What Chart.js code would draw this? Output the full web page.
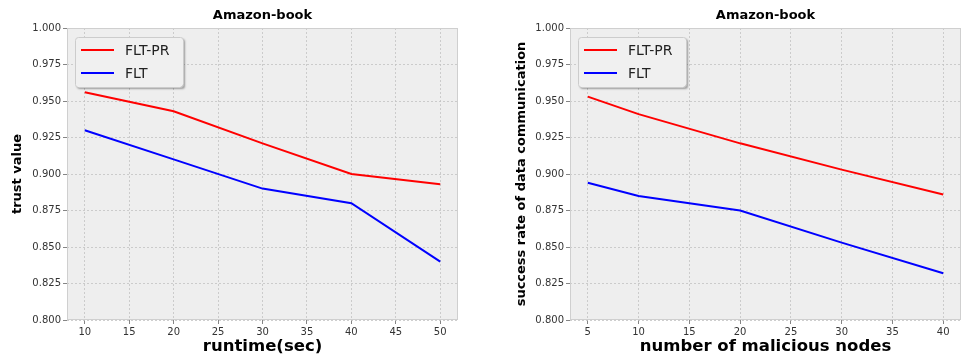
<!DOCTYPE html>
<html>
<head>
<meta charset="utf-8">
<script src="https://cdn.jsdelivr.net/npm/chart.js@4.4.0/dist/chart.umd.min.js"></script>
<style>
body { margin: 0; background: #fff; }
#wrap { position: relative; width: 963px; height: 357px; }
canvas { position: absolute; top: 0; }
</style>
</head>
<body>
<div id="wrap">
  <canvas id="runtimeChart" width="480" height="357" style="left:0"></canvas>
  <canvas id="nodesChart" width="483" height="357" style="left:480px"></canvas>
</div>
<script>
// left panel: trust value vs runtime
var runtimeX = [10, 20, 30, 40, 50];
var runtimeFltPr = [0.956, 0.943, 0.921, 0.900, 0.893];
var runtimeFlt = [0.930, 0.910, 0.890, 0.880, 0.840];
var runtimeTicks = [10, 15, 20, 25, 30, 35, 40, 45, 50];

// right panel: success rate vs malicious nodes
var nodesX = [5, 10, 20, 30, 40];
var nodesFltPr = [0.953, 0.941, 0.921, 0.903, 0.886];
var nodesFlt = [0.894, 0.885, 0.875, 0.853, 0.832];
var nodesTicks = [5, 10, 15, 20, 25, 30, 35, 40];

var yTicks = [0.800, 0.825, 0.850, 0.875, 0.900, 0.925, 0.950, 0.975, 1.000];
var seriesNames = ['FLT-PR', 'FLT'];
var seriesColors = ['#ff0000', '#0000ff'];

var FONT = "'DejaVu Sans', sans-serif";

function toPoints(xs, ys) {
    return xs.map(function (x, i) { return { x: x, y: ys[i] }; });
}

var plotBackground = {
    id: 'plotBackground',
    beforeDraw: function (chart) {
        var a = chart.chartArea, ctx = chart.ctx;
        ctx.save();
        ctx.fillStyle = '#eeeeee';
        ctx.fillRect(a.left, a.top, a.right - a.left, a.bottom - a.top);
        ctx.restore();
    },
    beforeDatasetsDraw: function (chart) {
        var a = chart.chartArea, ctx = chart.ctx;
        ctx.save();
        ctx.strokeStyle = '#cfcfcf';
        ctx.lineWidth = 1;
        ctx.strokeRect(a.left + 0.5, a.top + 0.5, a.right - a.left - 1, a.bottom - a.top - 1);
        ctx.restore();
    }
};

var insideLegend = {
    id: 'insideLegend',
    afterDatasetsDraw: function (chart) {
        var ctx = chart.ctx, a = chart.chartArea;
        var x = a.left + 8, y = a.top + 9, w = 108, h = 50;
        ctx.save();
        ctx.shadowColor = 'rgba(0,0,0,0.35)';
        ctx.shadowOffsetX = 2;
        ctx.shadowOffsetY = 2;
        ctx.shadowBlur = 2;
        ctx.beginPath();
        ctx.roundRect(x, y, w, h, 3);
        ctx.fillStyle = '#f0f0f0';
        ctx.fill();
        ctx.restore();
        ctx.save();
        ctx.beginPath();
        ctx.roundRect(x + 0.5, y + 0.5, w, h, 3);
        ctx.strokeStyle = '#cccccc';
        ctx.lineWidth = 1;
        ctx.stroke();
        ctx.font = '14px ' + FONT;
        ctx.textBaseline = 'middle';
        chart.data.datasets.forEach(function (ds, i) {
            var ly = y + 13 + i * 23;
            ctx.beginPath();
            ctx.moveTo(x + 6, ly);
            ctx.lineTo(x + 39, ly);
            ctx.strokeStyle = ds.borderColor;
            ctx.lineWidth = 2;
            ctx.stroke();
            ctx.fillStyle = '#222';
            ctx.fillText(ds.label, x + 50, ly + 1);
        });
        ctx.restore();
    }
};

function makeChart(id, xs, fltPr, flt, xTicks, xMin, xMax, xTitle, yTitle, yWidth, yTitlePad, padRight) {
    var ctx = document.getElementById(id).getContext('2d');
    var gridOpts = {
        color: '#c2c2c2',
        lineWidth: 0.8,
        tickLength: 4,
        tickColor: '#666',
        tickBorderDash: []
    };
    return new Chart(ctx, {
        type: 'line',
        data: {
            datasets: [fltPr, flt].map(function (ys, i) {
                return {
                    label: seriesNames[i],
                    data: toPoints(xs, ys),
                    borderColor: seriesColors[i],
                    borderWidth: 2,
                    pointRadius: 0,
                    tension: 0,
                    fill: false
                };
            })
        },
        options: {
            responsive: false,
            animation: false,
            layout: { padding: { left: 0, right: padRight, top: 0, bottom: 0 } },
            plugins: {
                legend: { display: false },
                tooltip: { enabled: false },
                title: {
                    display: true,
                    text: 'Amazon-book',
                    fullSize: false,
                    color: '#000',
                    font: { family: FONT, size: 13, weight: 'bold' },
                    padding: { top: 8, bottom: 4.4 }
                }
            },
            scales: {
                x: {
                    type: 'linear',
                    min: xMin,
                    max: xMax,
                    afterBuildTicks: function (scale) {
                        scale.ticks = xTicks.map(function (v) { return { value: v }; });
                    },
                    afterFit: function (scale) { scale.height = 37; },
                    ticks: {
                        color: '#333',
                        font: { family: FONT, size: 10 },
                        padding: 2,
                        maxRotation: 0
                    },
                    grid: gridOpts,
                    border: { display: false, dash: [2, 2] },
                    title: {
                        display: true,
                        text: xTitle,
                        color: '#000',
                        font: { family: FONT, size: 16.5, weight: 'bold' },
                        padding: { top: 0, bottom: 0 }
                    }
                },
                y: {
                    type: 'linear',
                    min: 0.8,
                    max: 1.0,
                    afterBuildTicks: function (scale) {
                        scale.ticks = yTicks.map(function (v) { return { value: v }; });
                    },
                    afterFit: function (scale) { scale.width = yWidth; },
                    ticks: {
                        color: '#333',
                        font: { family: FONT, size: 10 },
                        padding: 2,
                        callback: function (v) { return v.toFixed(3); }
                    },
                    grid: gridOpts,
                    border: { display: false, dash: [2, 2] },
                    title: {
                        display: true,
                        text: yTitle,
                        color: '#000',
                        font: { family: FONT, size: 13, weight: 'bold' },
                        padding: { top: yTitlePad, bottom: 0 }
                    }
                }
            }
        },
        plugins: [plotBackground, insideLegend]
    });
}

makeChart('runtimeChart', runtimeX, runtimeFltPr, runtimeFlt, runtimeTicks, 8, 52,
    'runtime(sec)', 'trust value', 67, 10, 22);
makeChart('nodesChart', nodesX, nodesFltPr, nodesFlt, nodesTicks, 3.25, 41.75,
    'number of malicious nodes', 'success rate of data communication', 90, 34, 2);
</script>
</body>
</html>
